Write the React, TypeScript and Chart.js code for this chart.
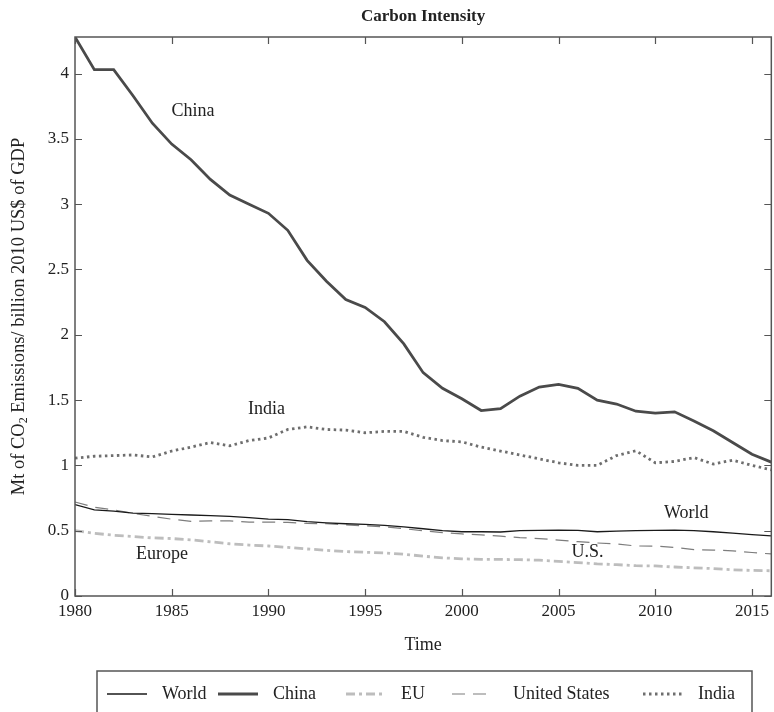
import React, { useEffect, useRef } from "react";
import { Chart, registerables } from "chart.js";
Chart.register(...registerables);

const years = [
  1980, 1981, 1982, 1983, 1984, 1985, 1986, 1987, 1988, 1989, 1990, 1991, 1992,
  1993, 1994, 1995, 1996, 1997, 1998, 1999, 2000, 2001, 2002, 2003, 2004, 2005,
  2006, 2007, 2008, 2009, 2010, 2011, 2012, 2013, 2014, 2015, 2016,
];
const world = [
  0.7, 0.66, 0.65, 0.635, 0.63, 0.625, 0.62, 0.615, 0.61, 0.6, 0.588, 0.585,
  0.57, 0.56, 0.553, 0.548, 0.54, 0.53, 0.515, 0.5, 0.492, 0.492, 0.49, 0.5,
  0.503, 0.505, 0.502, 0.492, 0.497, 0.5, 0.502, 0.504, 0.5, 0.492, 0.482,
  0.47, 0.461,
];
const china = [
  4.28, 4.03, 4.03, 3.83, 3.62, 3.46, 3.34, 3.19, 3.07, 3.0, 2.93, 2.8, 2.57,
  2.41, 2.27, 2.21, 2.1, 1.93, 1.71, 1.59, 1.51, 1.42, 1.435, 1.53, 1.6, 1.62,
  1.59, 1.5, 1.47, 1.415, 1.4, 1.41, 1.34, 1.265, 1.175, 1.085, 1.025,
];
const eu = [
  0.5, 0.48, 0.465, 0.455, 0.445, 0.44, 0.43, 0.415, 0.4, 0.39, 0.383, 0.372,
  0.36, 0.35, 0.34, 0.335, 0.33, 0.32, 0.305, 0.292, 0.285, 0.28, 0.28, 0.278,
  0.274, 0.265, 0.256, 0.246, 0.24, 0.232, 0.23, 0.222, 0.216, 0.21, 0.2,
  0.196, 0.193,
];
const us = [
  0.72, 0.68, 0.66, 0.632, 0.61, 0.588, 0.572, 0.575, 0.575, 0.566, 0.566,
  0.563, 0.556, 0.553, 0.545, 0.537, 0.53, 0.515, 0.5, 0.485, 0.475, 0.468,
  0.458, 0.447, 0.44, 0.428, 0.416, 0.406, 0.398, 0.383, 0.382, 0.372, 0.355,
  0.352, 0.346, 0.333, 0.322,
];
const india = [
  1.055, 1.07, 1.075, 1.08, 1.065, 1.11, 1.14, 1.175, 1.15, 1.19, 1.21, 1.275,
  1.295, 1.275, 1.27, 1.25, 1.26, 1.26, 1.215, 1.19, 1.18, 1.14, 1.11, 1.08,
  1.05, 1.02, 1.0, 1.0, 1.075, 1.112, 1.02, 1.03, 1.06, 1.01, 1.04, 1.0, 0.966,
];

const seriesNames = ["World", "China", "EU", "United States", "India"];
const xTickValues = [1980, 1985, 1990, 1995, 2000, 2005, 2010, 2015];
const yTickValues = [0, 0.5, 1, 1.5, 2, 2.5, 3, 3.5, 4];
const annotations = [
  { text: "China", x: 1986.1, y: 3.71 },
  { text: "India", x: 1989.9, y: 1.43 },
  { text: "World", x: 2011.6, y: 0.63 },
  { text: "U.S.", x: 2006.5, y: 0.335 },
  { text: "Europe", x: 1984.5, y: 0.32 },
];

const SERIF = "'Liberation Serif', 'Times New Roman', serif";

const pack = (arr: number[]) => years.map((y, i) => ({ x: y, y: arr[i] }));

export default function App() {
  const ref = useRef<HTMLCanvasElement | null>(null);
  useEffect(() => {
    document.body.style.margin = "0";
    const canvas = ref.current;
    if (!canvas) return;

    const decor = {
      id: "decor",
      afterDraw(chart: any) {
        const ctx = chart.ctx as CanvasRenderingContext2D;
        const a = chart.chartArea;
        const xs = chart.scales.x;
        const ys = chart.scales.y;
        ctx.save();
        // frame
        ctx.strokeStyle = "#555";
        ctx.lineWidth = 1.5;
        ctx.setLineDash([]);
        ctx.strokeRect(a.left, a.top, a.right - a.left, a.bottom - a.top);
        // inside ticks
        const tl = 7;
        ctx.beginPath();
        xTickValues.forEach((v) => {
          const px = Math.round(xs.getPixelForValue(v)) + 0.5;
          ctx.moveTo(px, a.bottom);
          ctx.lineTo(px, a.bottom - tl);
          ctx.moveTo(px, a.top);
          ctx.lineTo(px, a.top + tl);
        });
        yTickValues.forEach((v) => {
          const py = Math.round(ys.getPixelForValue(v)) + 0.5;
          ctx.moveTo(a.left, py);
          ctx.lineTo(a.left + tl, py);
          ctx.moveTo(a.right, py);
          ctx.lineTo(a.right - tl, py);
        });
        ctx.lineWidth = 1.2;
        ctx.stroke();

        // title
        ctx.fillStyle = "#222";
        ctx.textAlign = "center";
        ctx.textBaseline = "middle";
        ctx.font = `bold 17px ${SERIF}`;
        ctx.fillText("Carbon Intensity", (a.left + a.right) / 2, 17);

        // x title
        ctx.font = `18px ${SERIF}`;
        ctx.fillText("Time", (a.left + a.right) / 2, 645);

        // y title with subscript
        ctx.save();
        ctx.translate(19, (a.top + a.bottom) / 2);
        ctx.rotate(-Math.PI / 2);
        const p1 = "Mt of CO";
        const p2 = "2";
        const p3 = " Emissions/ billion 2010 US$ of GDP";
        ctx.font = `18.5px ${SERIF}`;
        const w1 = ctx.measureText(p1).width;
        const w3 = ctx.measureText(p3).width;
        ctx.font = `12px ${SERIF}`;
        const w2 = ctx.measureText(p2).width;
        const total = w1 + w2 + w3;
        let cx = -total / 2;
        ctx.textAlign = "left";
        ctx.font = `18.5px ${SERIF}`;
        ctx.fillText(p1, cx, 0);
        cx += w1;
        ctx.font = `12px ${SERIF}`;
        ctx.fillText(p2, cx, 5);
        cx += w2;
        ctx.font = `18.5px ${SERIF}`;
        ctx.fillText(p3, cx, 0);
        ctx.restore();

        // annotations
        ctx.textAlign = "center";
        ctx.textBaseline = "middle";
        ctx.font = `18px ${SERIF}`;
        ctx.fillStyle = "#222";
        annotations.forEach((an) => {
          ctx.fillText(an.text, xs.getPixelForValue(an.x), ys.getPixelForValue(an.y));
        });

        // legend
        ctx.strokeStyle = "#555";
        ctx.lineWidth = 1.5;
        ctx.setLineDash([]);
        ctx.strokeRect(97, 671, 655, 60);
        const starts = [107, 218, 346, 452, 643];
        const ly = 694;
        chart.data.datasets.forEach((ds: any, i: number) => {
          const sx = starts[i];
          ctx.beginPath();
          ctx.strokeStyle = ds.borderColor;
          ctx.lineWidth = ds.borderWidth;
          ctx.setLineDash(ds.borderDash || []);
          ctx.moveTo(sx, ly);
          ctx.lineTo(sx + 40, ly);
          ctx.stroke();
          ctx.setLineDash([]);
          ctx.fillStyle = "#222";
          ctx.textAlign = "left";
          ctx.font = `18px ${SERIF}`;
          ctx.fillText(ds.label, sx + (i === 3 ? 61 : 55), ly);
        });
        ctx.restore();
      },
    };

    const chart = new Chart(canvas, {
      type: "line",
      data: {
        datasets: [
          { label: seriesNames[0], data: pack(world), borderColor: "#1a1a1a", borderWidth: 1.3 },
          { label: seriesNames[1], data: pack(china), borderColor: "#4a4a4a", borderWidth: 2.8 },
          { label: seriesNames[2], data: pack(eu), borderColor: "#bdbdbd", borderWidth: 2.8, borderDash: [9, 4, 3, 4] },
          { label: seriesNames[3], data: pack(us), borderColor: "#7d7d7d", borderWidth: 1.2, borderDash: [13, 8] },
          { label: seriesNames[4], data: pack(india), borderColor: "#6e6e6e", borderWidth: 2.8, borderDash: [2.5, 3.5] },
        ].map((d) => ({ ...d, pointRadius: 0, tension: 0, fill: false, borderCapStyle: "butt" as const })),
      },
      options: {
        responsive: false,
        animation: false,
        layout: { padding: { top: 37, right: 1, left: 0, bottom: 0 } },
        plugins: { legend: { display: false }, title: { display: false }, tooltip: { enabled: false } },
        scales: {
          x: {
            type: "linear",
            min: 1980,
            max: 2016,
            afterFit: (s: any) => { s.height = 116; },
            grid: { display: false, drawTicks: false },
            border: { display: false },
            ticks: {
              stepSize: 5,
              includeBounds: false,
              autoSkip: false,
              maxRotation: 0,
              padding: 5,
              color: "#222",
              font: { family: SERIF, size: 17 },
              callback: (v: any) => String(v),
            },
          },
          y: {
            type: "linear",
            min: 0,
            max: 4.28,
            afterFit: (s: any) => { s.width = 75; },
            grid: { display: false, drawTicks: false },
            border: { display: false },
            ticks: {
              stepSize: 0.5,
              includeBounds: false,
              autoSkip: false,
              padding: 6,
              color: "#222",
              font: { family: SERIF, size: 17 },
              callback: (v: any) => String(v),
            },
          },
        },
      },
      plugins: [decor],
    });
    return () => chart.destroy();
  }, []);
  return (
    <div style={{ position: "absolute", left: 0, top: 0, width: 774, height: 712 }}>
      <canvas ref={ref} width={774} height={712} />
    </div>
  );
}
